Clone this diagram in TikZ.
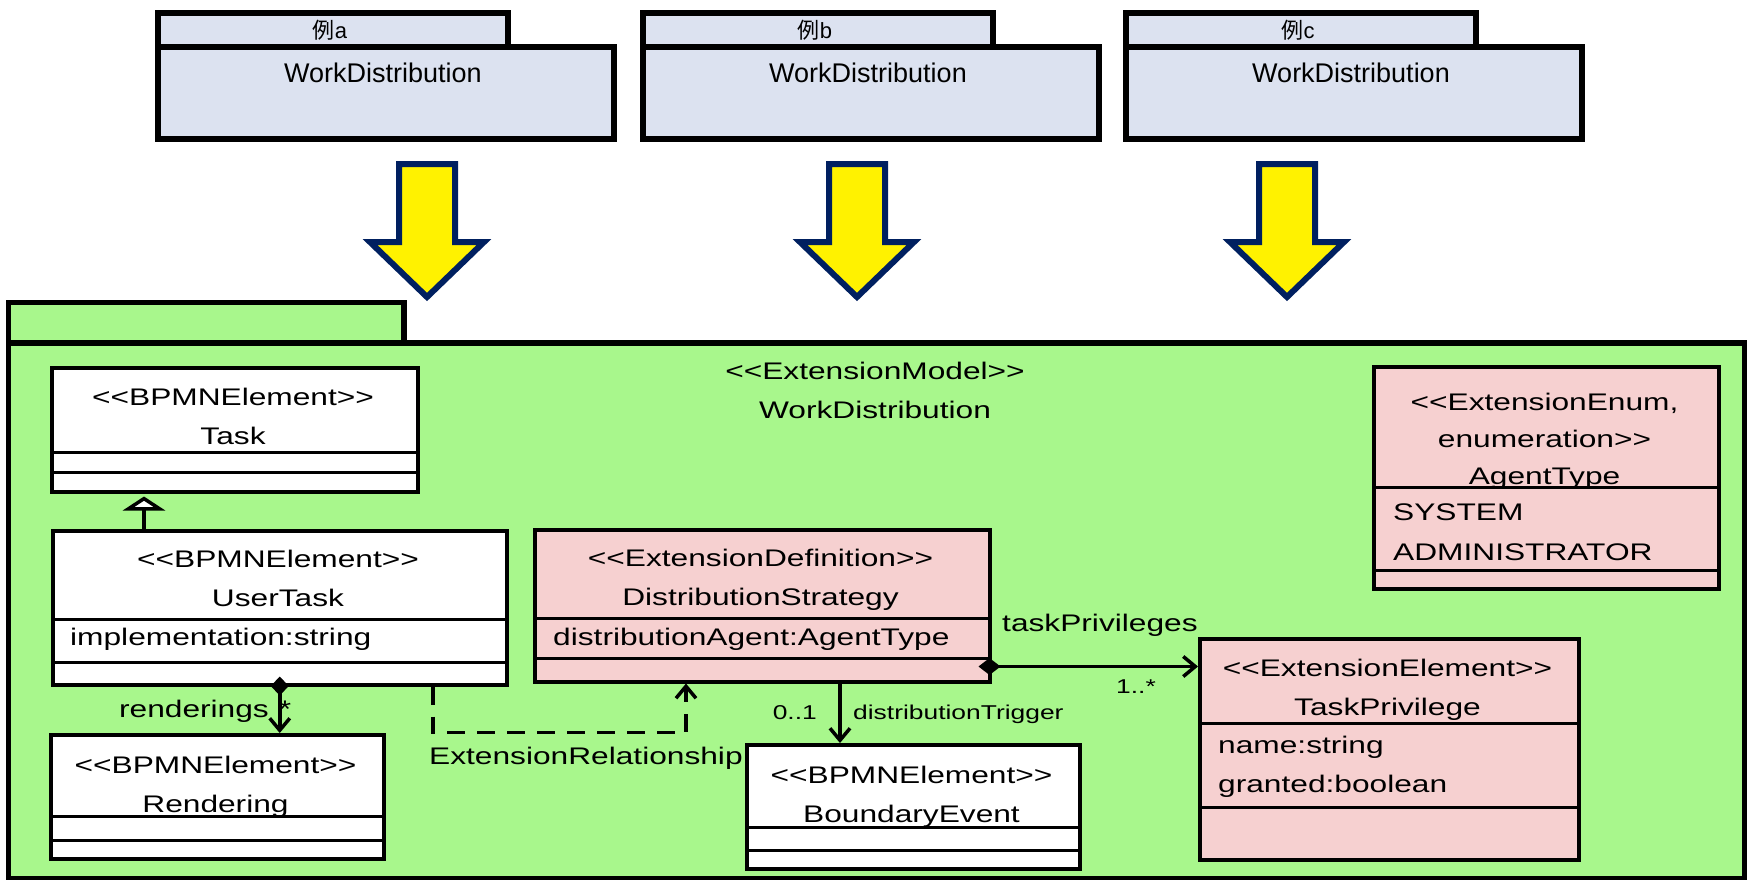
\documentclass[tikz,border=0pt]{standalone}
\usepackage{fontspec}
\setmainfont{Liberation Sans}
\newfontfamily\umlfont{Liberation Sans}[FakeStretch=1.32]
\newfontfamily\cjkfont{Noto Sans CJK JP}
\usetikzlibrary{arrows.meta}
\definecolor{pkgblue}{RGB}{220,226,240}
\definecolor{modelgreen}{RGB}{168,247,140}
\definecolor{extpink}{RGB}{246,208,208}
\definecolor{arrownavy}{RGB}{0,32,96}
\newcommand{\stereo}[1]{<{}<#1>{}>}
\tikzset{
  umlclass/.style={draw, rectangle, line width=3.5pt, inner sep=0pt, anchor=north west},
  umltitle/.style={font=\umlfont\fontsize{24}{39}\selectfont, align=center, inner sep=0pt, anchor=base},
  umlattr/.style={font=\umlfont\fontsize{24}{39}\selectfont, align=left, inner sep=0pt, anchor=base west},
  umlsep/.style={line width=3pt},
  umlassoc/.style={line width=3.5pt},
  rolelabel/.style={font=\umlfont\fontsize{24}{30}\selectfont, inner sep=0pt},
  multlabel/.style={font=\umlfont\fontsize{20}{24}\selectfont, inner sep=0pt},
  pkgframe/.style={draw, rectangle, line width=5.5pt, inner sep=0pt, anchor=north west},
  pkgtext/.style={inner sep=0pt, anchor=base},
  openhead/.style={-{Straight Barb[length=12pt,width=20pt]}},
  bigarrow/.style={draw=arrownavy, fill=yellow, line width=6pt, line join=miter}
}
\begin{document}
\begin{tikzpicture}[x=1pt, y=-1pt]
  \useasboundingbox (0,0) rectangle (1748,879);
  % the three example packages
  \foreach \px/\pn in {155/a,640/b,1123/c}{
    \node[pkgframe, fill=pkgblue, minimum width=350pt, minimum height=34pt] (tab\pn) at (\px,10) {};
    \node[pkgframe, fill=pkgblue, minimum width=456pt, minimum height=92pt] (pkg\pn) at (\px,44) {};
    \node[pkgtext, font=\fontsize{22}{26}\selectfont] (tabname\pn) at (\px+175,38) {{\cjkfont 例}\pn};
    \node[pkgtext, font=\fontsize{27}{32}\selectfont] (pkgname\pn) at (\px+228,82) {WorkDistribution};
  }
  \foreach \ax in {427,857,1287}
    \draw[bigarrow] (\ax-28,164) -- (\ax+28,164) -- (\ax+28,242) -- (\ax+57,242)
      -- (\ax,297) -- (\ax-57,242) -- (\ax-28,242) -- cycle;

  % extension model package
  \node[pkgframe, fill=modelgreen, minimum width=395.5pt, minimum height=40.5pt] (modeltab) at (5.5,299.5) {};
  \node[pkgframe, fill=modelgreen, minimum width=1736pt, minimum height=536pt] (model) at (5.5,340) {};
  \node[umltitle] (modelname) at (875,418) {\stereo{ExtensionModel}\\WorkDistribution};

  % classes (text nodes sit on their last baseline)
  \node[umlclass, fill=white, minimum width=366pt, minimum height=124pt] (task) at (50,366) {};
  \node[umltitle] (taskname) at (233,444) {\stereo{BPMNElement}\\Task};
  \draw[umlsep] (50,452) -- (416,452) (50,472) -- (416,472);

  \node[umlclass, fill=white, minimum width=454pt, minimum height=154pt] (usertask) at (51,529) {};
  \node[umltitle] (usertaskname) at (278,606) {\stereo{BPMNElement}\\UserTask};
  \node[umlattr] (usertaskattr) at (70,645) {implementation:string};
  \draw[umlsep] (51,619) -- (505,619) (51,662) -- (505,662);

  \node[umlclass, fill=white, minimum width=333pt, minimum height=124pt] (rendering) at (49,733) {};
  \node[umltitle] (renderingname) at (215.5,812) {\stereo{BPMNElement}\\Rendering};
  \draw[umlsep] (49,816) -- (382,816) (49,840) -- (382,840);

  \node[umlclass, fill=extpink, minimum width=455pt, minimum height=152pt] (dstrat) at (533,528) {};
  \node[umltitle] (dstratname) at (760.5,605) {\stereo{ExtensionDefinition}\\DistributionStrategy};
  \node[umlattr] (dstratattr) at (553,645) {distributionAgent:AgentType};
  \draw[umlsep] (533,618) -- (988,618) (537,658) -- (988,658);

  \node[umlclass, fill=white, minimum width=333pt, minimum height=124pt] (bevent) at (745,743) {};
  \node[umltitle] (beventname) at (911.5,822) {\stereo{BPMNElement}\\BoundaryEvent};
  \draw[umlsep] (745,827) -- (1078,827) (745,850) -- (1078,850);

  \node[umlclass, fill=extpink, minimum width=379pt, minimum height=221pt] (tpriv) at (1198,637) {};
  \node[umltitle] (tprivname) at (1387.5,715) {\stereo{ExtensionElement}\\TaskPrivilege};
  \node[umlattr] (tprivattr) at (1218,792) {name:string\\granted:boolean};
  \draw[umlsep] (1198,723) -- (1577,723) (1198,807) -- (1577,807);

  \node[umlclass, fill=extpink, minimum width=345pt, minimum height=222pt] (agenttype) at (1372,365) {};
  \node[umltitle, font=\umlfont\fontsize{24}{37}\selectfont] (agenttypename) at (1544.5,484) {<{}<ExtensionEnum,\\enumeration>{}>\\AgentType};
  \node[umlattr, font=\umlfont\fontsize{24}{40}\selectfont] (agenttypeattr) at (1393,560) {SYSTEM\\ADMINISTRATOR};
  \draw[umlsep] (1372,487) -- (1717,487) (1372,570) -- (1717,570);

  % relationships
  \coordinate (genstart) at ([xshift=93pt]usertask.north west);
  \draw[umlassoc, shorten >=3pt, -{Triangle[fill=white, length=14pt, width=42pt]}] (genstart) -- (genstart |- task.south);

  \draw[umlassoc, {Diamond[length=19pt, width=18pt]}-{Straight Barb[length=12pt,width=20pt]}] ([yshift=10pt]usertask.south) -- (rendering.north -| usertask.south);
  \node[rolelabel, anchor=base east] (renderlbl) at (269,717) {renderings};
  \node[rolelabel, anchor=base] (rendermult) at (285,717) {*};

  \coordinate (extstart) at ([xshift=382pt]usertask.south west);
  \coordinate (extend) at ([xshift=153pt]dstrat.south west);
  \draw[umlassoc, dash pattern=on 18pt off 12pt, openhead] (extstart) -- ++(0,46) -| (extend);
  \node[rolelabel, anchor=base west] (extrellbl) at (429,764) {ExtensionRelationship};

  \coordinate (trigstart) at ([xshift=307pt]dstrat.south west);
  \draw[umlassoc, openhead] (trigstart) -- (trigstart |- bevent.north);
  \node[multlabel, anchor=base east] (trigmult) at (817,719) {0..1};
  \node[multlabel, anchor=base west] (triglbl) at (853,719) {distributionTrigger};

  \coordinate (tpstart) at ([xshift=-13pt, yshift=17pt]dstrat.south east);
  \draw[umlassoc, {Diamond[length=22pt, width=17pt]}-{Straight Barb[length=12pt,width=20pt]}] (tpstart) -- (tpstart -| tpriv.west);
  \node[rolelabel, anchor=base west] (privlbl) at (1002,631) {taskPrivileges};
  \node[multlabel, anchor=base west] (privmult) at (1116,693) {1..*};
\end{tikzpicture}
\end{document}
